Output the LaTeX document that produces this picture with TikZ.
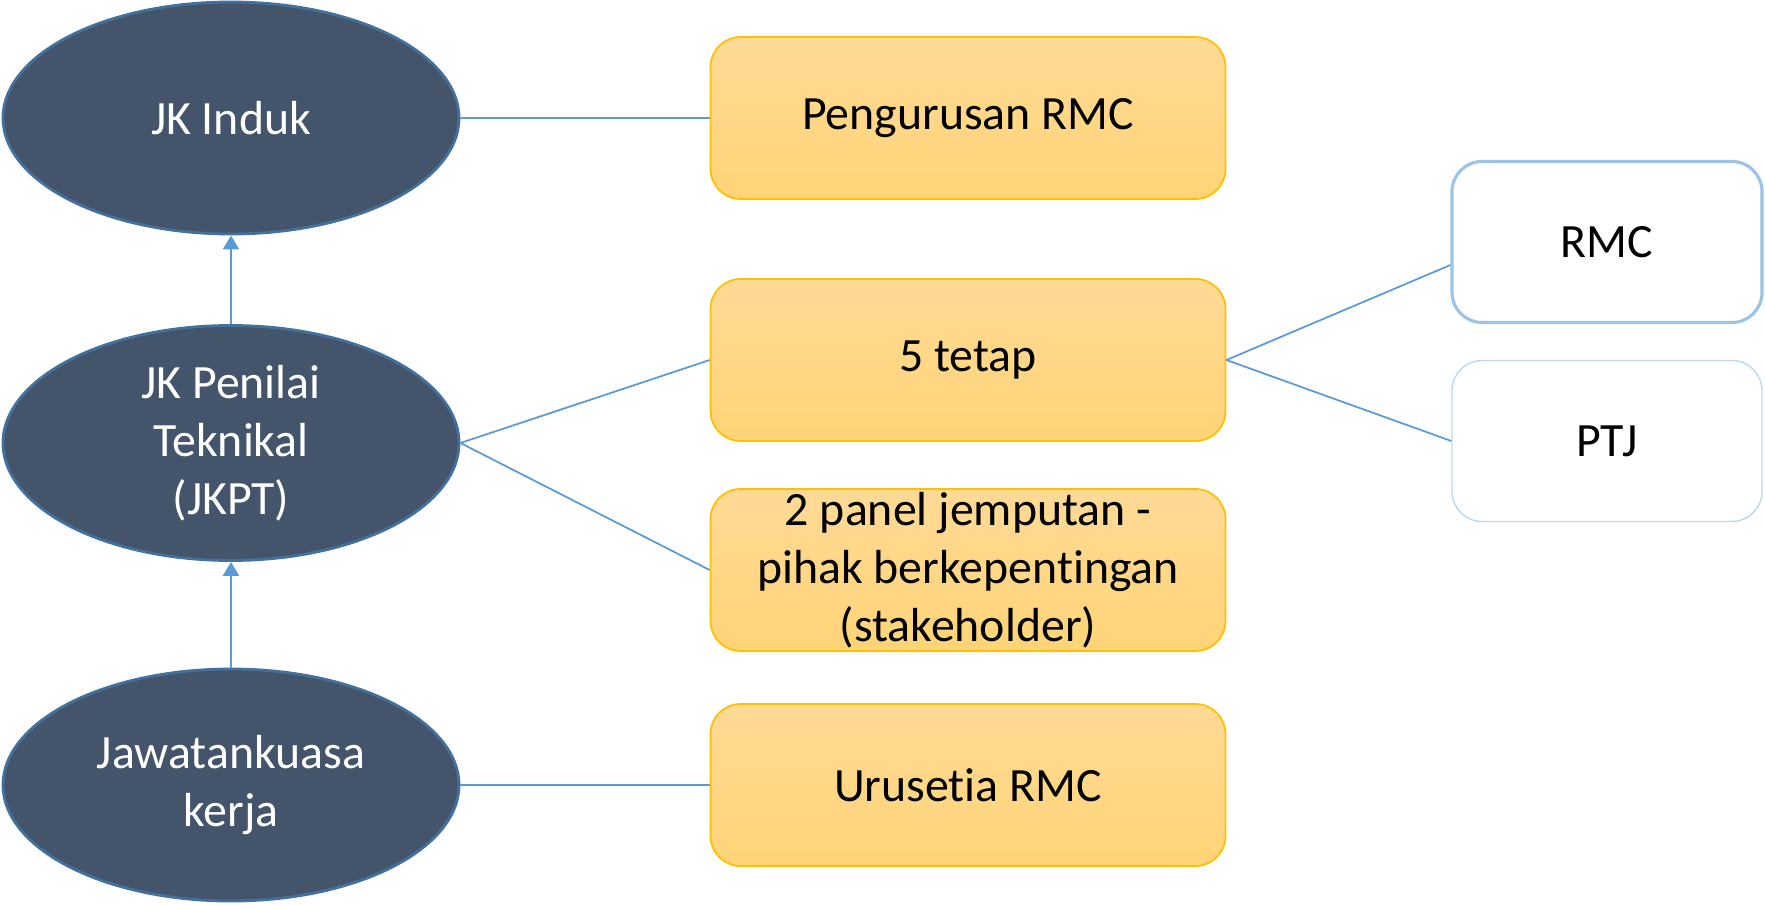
\documentclass[tikz,border=0pt]{standalone}
\usepackage{fontspec}
\setmainfont{Carlito}[Ligatures=NoCommon]
\usepackage{xcolor}
\usepackage{tikz}
\usetikzlibrary{shapes.geometric,arrows.meta}
\definecolor{slate}{HTML}{44546A}
\definecolor{slateline}{HTML}{41719C}
\definecolor{linkblue}{HTML}{5B9BD5}
\definecolor{goldline}{HTML}{FFC000}
\definecolor{goldtop}{HTML}{FFDA96}
\definecolor{goldbot}{HTML}{FFD477}
\definecolor{rmcline}{HTML}{9DC3E6}
\definecolor{ptjline}{HTML}{BDD7EE}
\newcommand{\teksbesar}{\fontsize{13.6}{16.5}\selectfont}

\begin{document}
\begin{tikzpicture}[
	komite/.style={ellipse,draw=slateline,line width=0.8pt,fill=slate,text=white,minimum width=4.56cm,minimum height=2.32cm,align=center,font=\teksbesar,inner sep=0pt},
	tugas/.style={rectangle,rounded corners=0.3cm,draw=goldline,line width=0.5pt,top color=goldtop,bottom color=goldbot,minimum width=5.15cm,minimum height=1.62cm,align=center,font=\teksbesar,inner sep=0pt},
	ahli/.style={rectangle,rounded corners=0.3cm,fill=white,minimum width=3.1cm,minimum height=1.61cm,font=\teksbesar,inner sep=0pt},
	hubung/.style={linkblue,line width=0.5pt},
	naik/.style={-{Triangle[width=4.5pt,length=4pt]},linkblue,line width=0.85pt}]
		\useasboundingbox (0,0) rectangle (17.65,-9.04);
		\node[komite] (induk) at (2.31,-1.18) {JK Induk};
		\node[komite,minimum height=2.35cm] (jkpt) at (2.31,-4.43) {JK Penilai\\Teknikal\\(JKPT)};
		\node[komite] (kerja) at (2.31,-7.85) {Jawatankuasa\\kerja};
		\node[tugas] (urus) at (9.68,-1.18) {Pengurusan RMC};
		\node[tugas] (tetap) at (9.68,-3.60) {5 tetap};
		\node[tugas] (panel) at (9.68,-5.70) {2 panel jemputan -\\pihak berkepentingan\\(stakeholder)};
		\node[tugas] (urusetia) at (9.68,-7.85) {Urusetia RMC};
		\node[ahli,draw=rmcline,line width=0.9pt] (rmc) at (16.07,-2.42) {RMC};
		\node[ahli,draw=ptjline,line width=0.4pt] (ptj) at (16.07,-4.41) {PTJ};
		\draw[naik] (jkpt) -- (induk);
		\draw[naik] (kerja) -- (jkpt);
		\draw[hubung] (induk.east) -- (urus.west);
		\draw[hubung] (jkpt.east) -- (tetap.west);
		\draw[hubung] (jkpt.east) -- (panel.west);
		\draw[hubung] (kerja.east) -- (urusetia.west);
		\draw[hubung] (tetap.east) -- ([yshift=-0.23cm]rmc.west);
		\draw[hubung] (tetap.east) -- (ptj.west);
	\end{tikzpicture}
\end{document}
